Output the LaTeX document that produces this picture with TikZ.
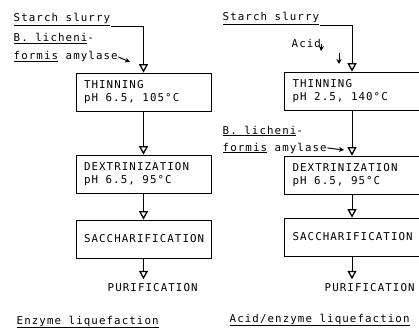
\documentclass[tikz,border=0pt]{standalone}
\usepackage{fontspec}
\setmonofont[LetterSpace=10]{DejaVu Sans Mono}
\usetikzlibrary{arrows.meta, positioning, calc}

\begin{document}
\begin{tikzpicture}[x=1pt, y=-1pt,
  font=\ttfamily\fontsize{10.8}{13}\selectfont,
  stepbox/.style={draw, line width=0.7pt, minimum height=38pt, text width=119pt, inner xsep=8pt, align=left,
    execute at begin node={\spaceskip=0pt\relax}},
  lbl/.style={anchor=base west, inner sep=0.5pt},
  flow/.style={line width=0.9pt, -{Triangle[open, width=9pt, length=8.5pt, line width=1.3pt]}},
  addarrow/.style={line width=1pt, -{Stealth[length=5pt, width=5pt]}}]
  % Frame
  \useasboundingbox (0,0) rectangle (419,331);

  % Enzyme liquefaction (left)
  \node[lbl] (slurryL) at (13,22) {\underline{Starch slurry}};
  \node[lbl] (bacL1) at (13,42) {\underline{B. licheni}-};
  \node[lbl] (bacL2) at (13,60) {\underline{formis} amylase};
  \coordinate (amyL) at (130,62);

  \node[stepbox] (thinL) at (143.5,92) {THINNING\\pH 6.5, 105°C};
  \node[stepbox] (dexL) at (143.5,174) {DEXTRINIZATION\\pH 6.5, 95°C};
  \node[stepbox, align=center] (sacL) at (143.5,239) {SACCHARIFICATION};
  \node[lbl] (purL) at (107,291) {PURIFICATION};
  \node[lbl] (titleL) at (16,324) {\underline{Enzyme liquefaction}};

  \draw[flow] (slurryL.south east) -| (thinL.north);
  \draw[addarrow] (bacL2.east) -- (amyL);
  \draw[flow] (thinL) -- (dexL);
  \draw[flow] (dexL) -- (sacL);
  \draw[flow] (sacL.south) -- ($(sacL.south |- purL.north)+(0,-3)$);

  % Acid/enzyme liquefaction (right)
  \node[lbl] (slurryR) at (222,21) {\underline{Starch slurry}};
  \node[lbl] (acidR) at (291,48) {Acid};
  \coordinate (acidtip) at (321,51);
  \coordinate (acidin) at (339,53);
  \coordinate (acidend) at (339,64);

  \node[stepbox] (thinR) at (352,91) {THINNING\\pH 2.5, 140°C};
  \node[lbl] (bacR1) at (222,134) {\underline{B. licheni}-};
  \node[lbl] (bacR2) at (222,151) {\underline{formis} amylase};
  \coordinate (amyR) at (344,150);

  \node[stepbox] (dexR) at (352,175) {DEXTRINIZATION\\pH 6.5, 95°C};
  \node[stepbox, align=center] (sacR) at (352,237) {SACCHARIFICATION};
  \node[lbl] (purR) at (324,291) {PURIFICATION};
  \node[lbl] (titleR) at (229,322) {\underline{Acid/enzyme liquefaction}};

  \draw[flow] (slurryR.south east) -| (thinR.north);
  \draw[addarrow] (acidR.east) -- (acidtip);
  \draw[addarrow] (acidin) -- (acidend);
  \draw[addarrow] (bacR2.east) -- (amyR);
  \draw[flow] (thinR) -- (dexR);
  \draw[flow] (dexR) -- (sacR);
  \draw[flow] (sacR.south) -- ($(sacR.south |- purR.north)+(0,-3)$);
\end{tikzpicture}
\end{document}
